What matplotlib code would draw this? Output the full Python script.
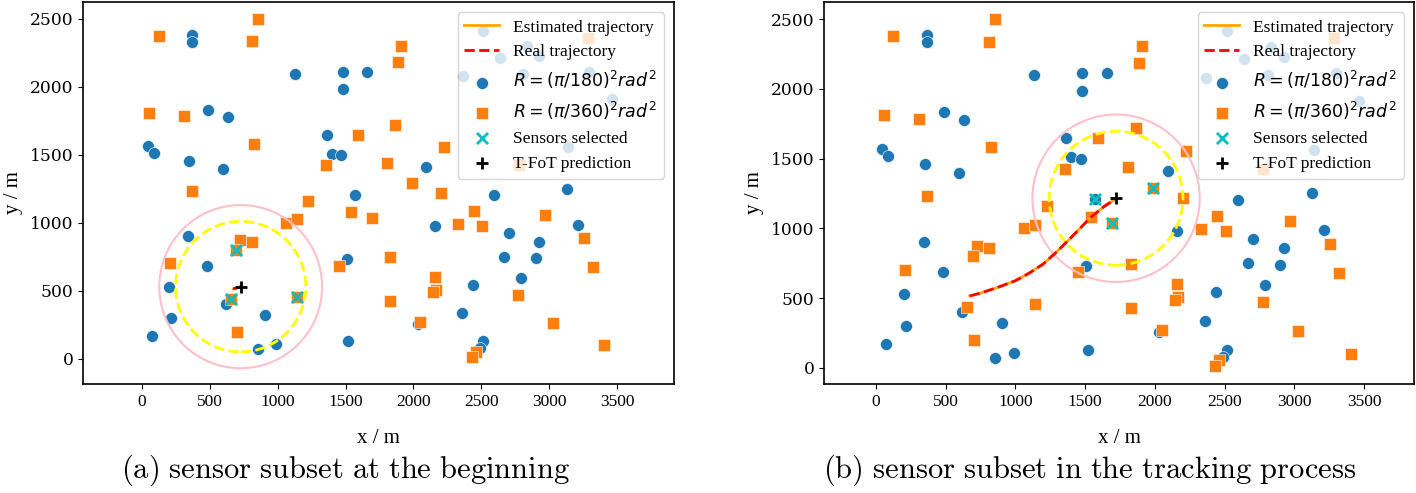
import matplotlib
matplotlib.use('Agg')
import matplotlib.pyplot as plt
from matplotlib.patches import Circle

plt.rcParams['font.family'] = ['Liberation Serif', 'DejaVu Serif']
plt.rcParams['mathtext.fontset'] = 'dejavusans'

# ---- sensor positions (m) ----
blue_x = [368, 368, 1130, 1479, 1479, 1656, 42, 88, 489, 631, 349, 595, 1361, 1398, 1467,
          1573, 2092, 2596, 3129, 2515, 2638, 2835, 2926, 2368, 2810, 3296, 3461, 3142,
          341, 477, 201, 214, 71, 619, 906, 852, 987, 1518, 1508, 2159, 2707, 2926, 2670,
          2901, 3215, 2793, 2437, 2361, 2032, 2515, 2491]
blue_y = [2382, 2333, 2096, 2113, 1983, 2113, 1568, 1517, 1833, 1776, 1458, 1394, 1647, 1510, 1498,
          1208, 1414, 1206, 1250, 2412, 2211, 2301, 2228, 2081, 2096, 2113, 1912, 1561,
          904, 684, 527, 299, 169, 404, 323, 73, 108, 130, 733, 978, 924, 863, 752,
          740, 985, 593, 544, 336, 255, 132, 78]

orange_x = [125, 853, 808, 54, 312, 828, 366, 1356, 1595, 1226, 1540, 1909, 1884, 1864, 2225,
            1808, 1987, 2201, 1692, 2449, 2972, 1061, 1140, 2328, 725, 808, 693, 206, 656,
            1140, 702, 1452, 2508, 1830, 3259, 3321, 2162, 2167, 2147, 1828, 2773, 2049,
            3026, 3405, 2461, 2434, 3284, 2778]
orange_y = [2377, 2497, 2338, 1811, 1787, 1581, 1235, 1426, 1647, 1163, 1079, 2304, 2183, 1721, 1558,
            1439, 1291, 1218, 1037, 1088, 1056, 1002, 1026, 993, 872, 863, 801, 703, 439,
            458, 201, 686, 980, 748, 887, 678, 600, 507, 490, 429, 471, 274,
            267, 103, 54, 13, 2363, 1426]

# ---- panel (a): beginning ----
sel_a_x = [693, 656, 1140]
sel_a_y = [801, 439, 458]
pred_a_x = [727]
pred_a_y = [532]
traj_a_x = [672, 700, 722]
traj_a_y = [516, 523, 530]

# ---- panel (b): tracking process ----
sel_b_x = [1573, 1987, 1692]
sel_b_y = [1208, 1291, 1037]
pred_b_x = [1722]
pred_b_y = [1216]
traj_b_x = [672, 746, 875, 1000, 1100, 1200, 1294, 1400, 1540, 1640, 1715]
traj_b_y = [516, 535, 578, 625, 680, 745, 830, 935, 1079, 1160, 1208]

r_outer = 600
r_inner = 480

captions = ['(a) sensor subset at the beginning', '(b) sensor subset in the tracking process']

W, H = 1416, 493
fig = plt.figure(figsize=(W / 100, H / 100), dpi=100)

panels = [
    dict(rect=[83, 2, 674, 384], xlim=(-435, 3920), ylim=(-184, 2625),
         sel=(sel_a_x, sel_a_y), pred=(pred_a_x, pred_a_y), traj=(traj_a_x, traj_a_y),
         cap_x=345),
    dict(rect=[824, 2, 1414, 384], xlim=(-373, 3859), ylim=(-115, 2622),
         sel=(sel_b_x, sel_b_y), pred=(pred_b_x, pred_b_y), traj=(traj_b_x, traj_b_y),
         cap_x=1090),
]

for i, p in enumerate(panels):
    x0, y0, x1, y1 = p['rect']
    ax = fig.add_axes([x0 / W, 1 - y1 / H, (x1 - x0) / W, (y1 - y0) / H])
    tx, ty = p['traj']
    l1, = ax.plot(tx, ty, color='orange', lw=2, zorder=4, label='Estimated trajectory')
    l2, = ax.plot(tx, ty, color='red', ls='--', lw=2, zorder=4.1, label='Real trajectory')
    s1 = ax.scatter(blue_x, blue_y, s=74, c='#1f77b4', edgecolors='white', linewidths=0.4,
                    zorder=2, label=r'$R=(\pi/180)^2rad^2$')
    s2 = ax.scatter(orange_x, orange_y, s=74, marker='s', c='#ff7f0e', edgecolors='white',
                    linewidths=0.4, zorder=2.1, label=r'$R=(\pi/360)^2rad^2$')
    sx, sy = p['sel']
    s3 = ax.scatter(sx, sy, s=64, marker='x', c='c', linewidths=2, zorder=5,
                    label='Sensors selected')
    px, py = p['pred']
    s4 = ax.scatter(px, py, s=70, marker='+', c='k', linewidths=2, zorder=6,
                    label='T-FoT prediction')
    ax.add_patch(Circle((px[0], py[0]), r_outer, fill=False, ec='pink', lw=1.5, zorder=3))
    ax.add_patch(Circle((px[0], py[0]), r_inner, fill=False, ec='yellow', ls='--', lw=2,
                        zorder=3))
    ax.set_xlim(*p['xlim'])
    ax.set_ylim(*p['ylim'])
    ax.set_xticks([0, 500, 1000, 1500, 2000, 2500, 3000, 3500])
    ax.set_yticks([0, 500, 1000, 1500, 2000, 2500])
    ax.tick_params(axis='x', labelsize=12.5)
    ax.tick_params(axis='y', labelsize=12.3)
    for lab in ax.get_yticklabels():
        lab.set_fontfamily('DejaVu Serif')
    for sp in ax.spines.values():
        sp.set_linewidth(1.2)
    ax.set_xlabel('x / m', fontsize=15, labelpad=14)
    ax.set_ylabel('y / m', fontsize=15, labelpad=5)
    ax.legend(handles=[l1, l2, s1, s2, s3, s4], loc='upper right', fontsize=12.5,
              borderaxespad=0.6)
    fig.text(p['cap_x'] / W, 1 - 470 / H, r'$\mathrm{' + captions[i].replace(' ', r'\ ') + '}$',
             ha='center', va='center', fontsize=22, math_fontfamily='cm')

fig.savefig('out.png', dpi=100)
